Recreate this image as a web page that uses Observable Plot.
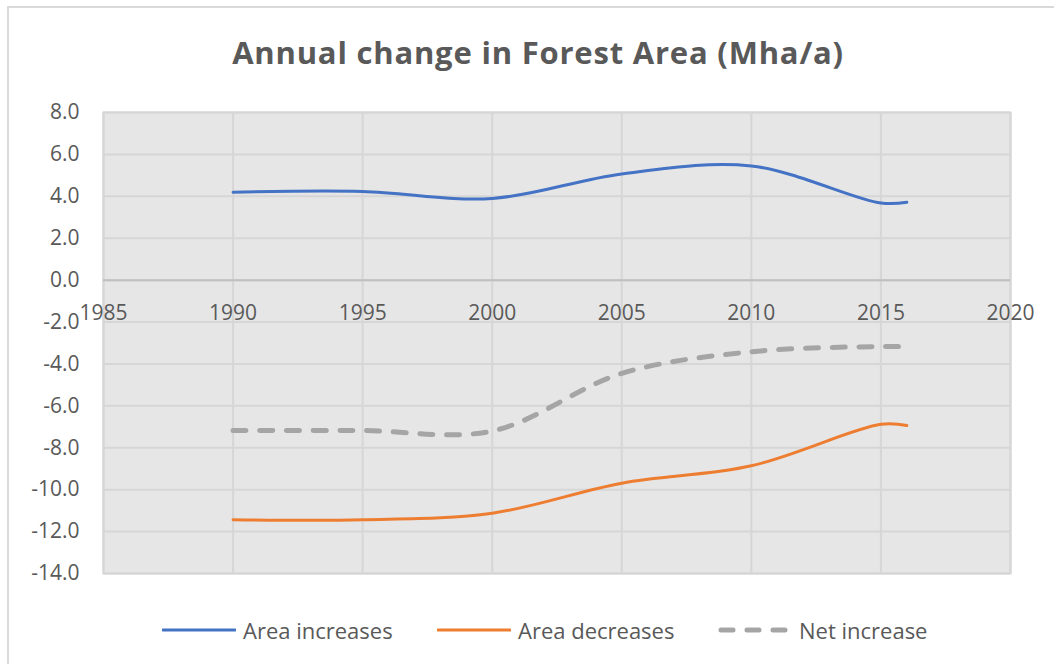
<!DOCTYPE html>
<html>
<head>
<meta charset="utf-8">
<script src="https://cdn.jsdelivr.net/npm/d3@7"></script>
<script src="https://cdn.jsdelivr.net/npm/@observablehq/plot@0.6"></script>
<style>
  html, body { margin: 0; padding: 0; background: #fff; }
  #wrap { position: relative; width: 1054px; height: 664px; overflow: hidden; font-family: "Open Sans", Lato, sans-serif; }
  #border { position: absolute; left: 7px; top: 6px; width: 1100px; height: 700px; border: 2px solid #d9d9d9; box-sizing: border-box; }
  #title { position: absolute; left: 0; width: 1076px; top: 31px; text-align: center; font-size: 31px; font-weight: 700; color: #595959; letter-spacing: 0.8px; }
  #chart { position: absolute; left: 0; top: 90px; }
  #legend { position: absolute; top: 615px; left: 0; width: 1054px; height: 30px; font-size: 22px; color: #595959; }
  .li { position: absolute; top: 0; display: flex; align-items: center; height: 30px; }
  .li svg { margin-right: 7px; }
</style>
</head>
<body>
<div id="wrap">
  <div id="border"></div>
  <div id="title">Annual change in Forest Area (Mha/a)</div>
  <div id="chart"></div>
  <div id="legend"></div>
</div>
<script>
const years = [1990, 1995, 2000, 2005, 2010, 2015, 2016];
const areaIncreases = [4.20, 4.23, 3.90, 5.07, 5.45, 3.68, 3.72];
const areaDecreases = [-11.43, -11.43, -11.12, -9.69, -8.86, -6.88, -6.94];
const netIncrease = [-7.18, -7.18, -7.20, -4.45, -3.42, -3.17, -3.18];
const seriesNames = ["Area increases", "Area decreases", "Net increase"];
const seriesColors = ["#4472C4", "#ED7D31", "#A5A5A5"];
const xTicks = [1985, 1990, 1995, 2000, 2005, 2010, 2015, 2020];
const yTicks = [8, 6, 4, 2, 0, -2, -4, -6, -8, -10, -12, -14];

const rows = (vals) => years.map((y, i) => ({year: y, value: vals[i]}));
const inc = rows(areaIncreases), dec = rows(areaDecreases), net = rows(netIncrease);
const fontFam = '"Open Sans", Lato, sans-serif';

const plot = Plot.plot({
  width: 1054,
  height: 493,
  marginLeft: 103,
  marginRight: 44,
  marginTop: 22,
  marginBottom: 10,
  style: {fontFamily: fontFam, fontSize: "21px", color: "#595959", background: "transparent", overflow: "visible"},
  x: {domain: [1985, 2020], axis: null},
  y: {domain: [-14, 8], axis: null},
  marks: [
    Plot.frame({fill: "#e6e6e6", stroke: "#d6d6d6", strokeWidth: 2}),
    Plot.gridX(xTicks, {stroke: "#d6d6d6", strokeOpacity: 1, strokeWidth: 2}),
    Plot.gridY(yTicks, {stroke: "#d6d6d6", strokeOpacity: 1, strokeWidth: 2}),
    Plot.ruleY([0], {stroke: "#bfbfbf", strokeWidth: 2}),
    Plot.axisY({ticks: yTicks, tickSize: 0, tickPadding: 24, tickFormat: d => d.toFixed(1), fill: "#595959", fontSize: 21, label: null}),
    Plot.text(xTicks, {x: d => d, y: 0, dy: 33, text: d => String(d), fill: "#595959", fontSize: 21}),
    Plot.line(inc, {x: "year", y: "value", stroke: seriesColors[0], strokeWidth: 3, curve: "catmull-rom"}),
    Plot.line(dec, {x: "year", y: "value", stroke: seriesColors[1], strokeWidth: 3, curve: "catmull-rom"}),
    Plot.line(net, {x: "year", y: "value", stroke: seriesColors[2], strokeWidth: 5, strokeDasharray: "13,13.7", strokeLinecap: "round", curve: "catmull-rom"})
  ]
});
document.getElementById("chart").appendChild(plot);

const legend = document.getElementById("legend");
const lefts = [162, 437, 718];
seriesNames.forEach((name, i) => {
  const d = document.createElement("div");
  d.className = "li";
  d.style.left = lefts[i] + "px";
  const dash = i === 2 ? 'stroke-dasharray="12,14" stroke-width="5"' : 'stroke-width="3"';
  d.innerHTML = `<svg width="74" height="10"><line x1="${i===2?3:1}" x2="${i===2?70:73}" y1="5" y2="5" stroke="${seriesColors[i]}" ${dash} stroke-linecap="round"/></svg><span>${name}</span>`;
  legend.appendChild(d);
});
</script>
</body>
</html>
